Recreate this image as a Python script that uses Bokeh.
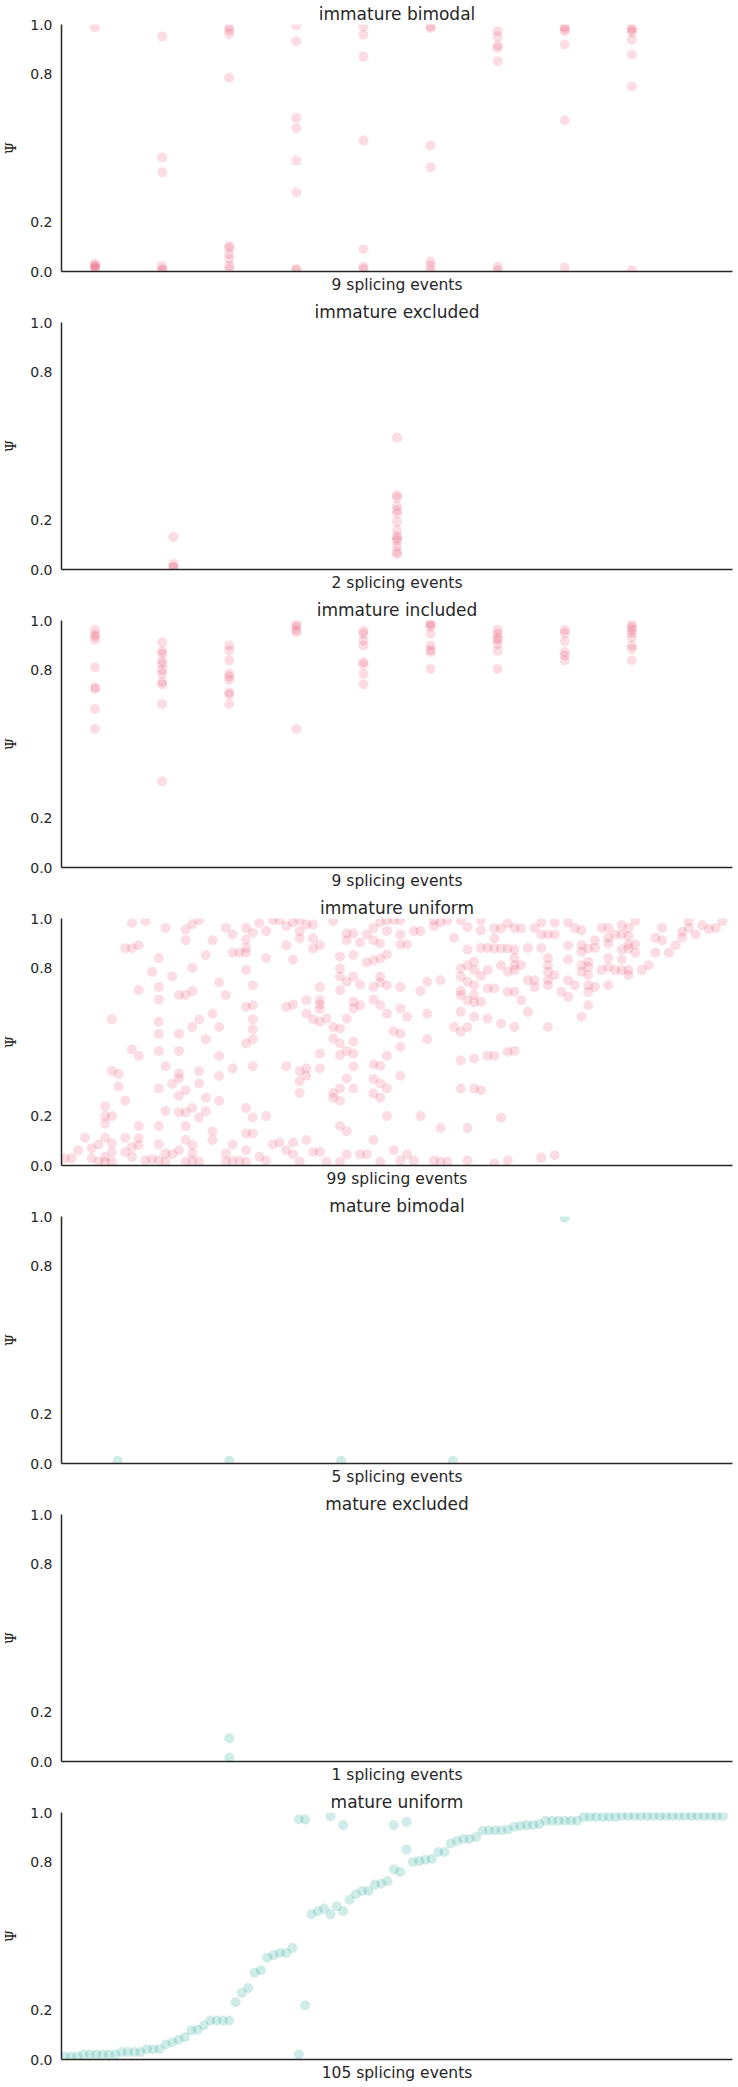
from bokeh.plotting import figure
from bokeh.layouts import column
from bokeh.models import Range1d, FixedTicker
from bokeh.embed import file_html
from bokeh.resources import INLINE

panel_titles = ["immature bimodal", "immature excluded", "immature included",
                "immature uniform", "mature bimodal", "mature excluded", "mature uniform"]
n_events = [9, 2, 9, 99, 5, 1, 105]
y_ticks = [0.0, 0.2, 0.8, 1.0]
immature_color = "#EB5573"
mature_color = "#14A091"

# Psi values per splicing event (one inner list per event)
imm_bimodal = [
    [0.989, 0.03, 0.025, 0.02, 0.015, 0.01],
    [0.951, 0.462, 0.401, 0.023, 0.009, 0.005],
    [0.989, 0.976, 0.962, 0.784, 0.104, 0.095, 0.07, 0.05, 0.023, 0.01],
    [0.996, 0.932, 0.622, 0.58, 0.449, 0.32, 0.01, 0.005],
    [0.992, 0.959, 0.87, 0.53, 0.09, 0.019, 0.01],
    [0.992, 0.986, 0.51, 0.422, 0.04, 0.023, 0.005],
    [0.973, 0.951, 0.915, 0.905, 0.851, 0.019, 0.005],
    [0.989, 0.982, 0.973, 0.919, 0.611, 0.016],
    [0.986, 0.978, 0.969, 0.938, 0.878, 0.749, 0.005],
]
imm_excluded = [
    [0.132, 0.022, 0.011, 0.007],
    [0.533, 0.301, 0.291, 0.256, 0.24, 0.227, 0.193, 0.159, 0.135, 0.126, 0.116, 0.094, 0.072, 0.062],
]
imm_included = [
    [0.962, 0.943, 0.935, 0.922, 0.811, 0.73, 0.723, 0.642, 0.561],
    [0.912, 0.876, 0.865, 0.835, 0.824, 0.8, 0.784, 0.75, 0.741, 0.662, 0.349],
    [0.899, 0.878, 0.838, 0.784, 0.773, 0.759, 0.709, 0.7, 0.662],
    [0.986, 0.976, 0.962, 0.953, 0.561],
    [0.957, 0.946, 0.919, 0.899, 0.831, 0.822, 0.784, 0.741],
    [0.989, 0.984, 0.976, 0.946, 0.899, 0.881, 0.872, 0.804],
    [0.962, 0.946, 0.93, 0.922, 0.905, 0.878, 0.804],
    [0.962, 0.949, 0.916, 0.872, 0.858, 0.838],
    [0.986, 0.973, 0.962, 0.949, 0.932, 0.899, 0.885, 0.838],
]
imm_uniform = [
    [0.028], [0.03], [0.062], [0.112], [0.07, 0.03], [0.085, 0.015],
    [0.112, 0.24, 0.20, 0.17, 0.035, 0.015],
    [0.592, 0.383, 0.20, 0.09, 0.055, 0.015],
    [0.371, 0.32],
    [0.88, 0.262, 0.112, 0.055],
    [0.982, 0.88, 0.47, 0.075, 0.035],
    [0.892, 0.71, 0.443, 0.16, 0.11, 0.082],
    [0.99, 0.02],
    [0.784, 0.025],
    [0.84, 0.723, 0.672, 0.582, 0.533, 0.464, 0.312, 0.16, 0.086, 0.02],
    [0.962, 0.402, 0.221, 0.049, 0.015],
    [0.764, 0.33, 0.045],
    [0.69, 0.533, 0.464, 0.372, 0.352, 0.282, 0.215, 0.062],
    [0.955, 0.912, 0.69, 0.305, 0.215, 0.16, 0.103, 0.015],
    [0.977, 0.80, 0.706, 0.561, 0.233, 0.082, 0.049, 0.02],
    [0.993, 0.591, 0.382, 0.332, 0.194, 0.015],
    [0.852, 0.511, 0.274, 0.22],
    [0.912, 0.614, 0.139, 0.103],
    [0.741, 0.561, 0.443, 0.362, 0.262],
    [0.962, 0.69, 0.049, 0.015],
    [0.935, 0.861, 0.393, 0.085, 0.018],
    [0.861, 0.02],
    [0.962, 0.915, 0.881, 0.861, 0.791, 0.642, 0.494, 0.233, 0.13, 0.062, 0.015],
    [0.942, 0.73, 0.649, 0.592, 0.552, 0.511, 0.402, 0.194, 0.13],
    [0.982, 0.035],
    [0.949, 0.84, 0.20, 0.02],
    [0.993, 0.085],
    [0.993, 0.093],
    [0.97, 0.892, 0.642, 0.402, 0.062],
    [0.984, 0.834, 0.652, 0.093, 0.045],
    [0.993, 0.949, 0.919, 0.382, 0.341, 0.294, 0.015],
    [0.976, 0.669, 0.615, 0.393, 0.363, 0.103],
    [0.976, 0.919, 0.879, 0.592, 0.055],
    [0.892, 0.723, 0.669, 0.652, 0.633, 0.582, 0.453, 0.393, 0.055],
    [0.595, 0.015],
    [0.99, 0.561, 0.514, 0.294, 0.274],
    [0.846, 0.798, 0.764, 0.71, 0.555, 0.494, 0.447, 0.312, 0.262, 0.16, 0.015],
    [0.939, 0.912, 0.744, 0.595, 0.464, 0.352, 0.139, 0.045],
    [0.939, 0.852, 0.764, 0.663, 0.636, 0.501, 0.453, 0.402, 0.312],
    [0.903, 0.733, 0.649, 0.045],
    [0.935, 0.822, 0.045],
    [0.962, 0.912, 0.831, 0.723, 0.672, 0.409, 0.35, 0.291, 0.103],
    [0.984, 0.899, 0.838, 0.764, 0.741, 0.649, 0.404, 0.332, 0.274, 0.015],
    [0.993, 0.949, 0.854, 0.73, 0.615, 0.443, 0.312, 0.20],
    [0.993, 0.544, 0.062],
    [0.993, 0.935, 0.895, 0.723, 0.636, 0.534, 0.48, 0.363, 0.02],
    [0.895, 0.602, 0.045],
    [0.949, 0.02],
    [0.949, 0.706, 0.20],
    [0.744, 0.614, 0.511],
    [0.993, 0.97, 0.02],
    [0.984, 0.75, 0.152, 0.015],
    [0.993, 0.015],
    [0.922, 0.561],
    [0.993, 0.798, 0.764, 0.706, 0.69, 0.622, 0.541, 0.425, 0.312],
    [0.966, 0.874, 0.811, 0.744, 0.669, 0.561, 0.152, 0.02],
    [0.825, 0.791, 0.73, 0.69, 0.66, 0.602, 0.433, 0.312],
    [0.993, 0.952, 0.881, 0.768, 0.663, 0.305],
    [0.881, 0.791, 0.717, 0.595, 0.444],
    [0.96, 0.919, 0.879, 0.717, 0.444, 0.008],
    [0.96, 0.879, 0.811, 0.575, 0.193],
    [0.98, 0.879, 0.784, 0.703, 0.46, 0.02],
    [0.962, 0.874, 0.84, 0.811, 0.791, 0.703, 0.561, 0.464],
    [0.96, 0.811, 0.669],
    [0.881, 0.75, 0.622],
    [0.962, 0.75, 0.723],
    [0.984, 0.935, 0.881, 0.031],
    [0.935, 0.84, 0.811, 0.784, 0.75, 0.73, 0.561],
    [0.984, 0.935, 0.771, 0.042],
    [0.703],
    [0.984, 0.892, 0.834, 0.75, 0.683],
    [0.962, 0.73],
    [0.952, 0.892, 0.865, 0.811, 0.784, 0.602],
    [0.879, 0.825, 0.804, 0.771, 0.73, 0.703, 0.649],
    [0.912, 0.881, 0.723],
    [0.962, 0.791],
    [0.962, 0.922, 0.899, 0.84, 0.804, 0.73],
    [0.935, 0.791],
    [0.973, 0.935, 0.874, 0.834, 0.791],
    [0.962, 0.929, 0.895, 0.879, 0.791, 0.771],
    [0.989, 0.895, 0.861],
    [0.791],
    [0.811],
    [0.922, 0.861],
    [0.962, 0.912],
    [0.861],
    [0.892],
    [0.946, 0.922],
    [0.989, 0.962],
    [0.935],
    [0.973],
    [0.957],
    [0.962],
    [0.989],
]
mat_bimodal = [[0.011], [0.011], [0.011], [0.011], [0.995]]
mat_excluded = [[0.094, 0.016]]
mat_uniform = [
    [0.012], [0.012], [0.012],
    [0.02], [0.02], [0.02], [0.02], [0.02], [0.02],
    [0.03], [0.03], [0.03], [0.03],
    [0.042], [0.042], [0.042],
    [0.061], [0.07], [0.08], [0.09], [0.118], [0.12], [0.138],
    [0.158], [0.158], [0.158], [0.158],
    [0.232], [0.269], [0.289], [0.351], [0.361], [0.412], [0.422], [0.431], [0.431], [0.451],
    [0.972, 0.02], [0.972, 0.219],
    [0.588], [0.601], [0.611], [0.985, 0.588], [0.62], [0.949, 0.6], [0.647], [0.669],
    [0.682], [0.682], [0.708], [0.712], [0.723],
    [0.949, 0.769], [0.759], [0.962, 0.85], [0.8], [0.804], [0.809], [0.812], [0.84], [0.84],
    [0.874], [0.885], [0.893], [0.893], [0.901], [0.926], [0.928], [0.928], [0.928], [0.931],
    [0.942], [0.945], [0.949], [0.949], [0.953],
    [0.967], [0.967], [0.967], [0.967], [0.967], [0.967],
    [0.982], [0.982], [0.982], [0.982], [0.982], [0.982],
    [0.986], [0.986], [0.986], [0.986], [0.986], [0.986], [0.986], [0.986], [0.986],
    [0.986], [0.986], [0.986], [0.986], [0.986], [0.986], [0.986], [0.986],
]

panel_data = [imm_bimodal, imm_excluded, imm_included, imm_uniform,
              mat_bimodal, mat_excluded, mat_uniform]
panel_colors = [immature_color] * 4 + [mature_color] * 3

TEXT = "#262626"
FONT = "DejaVu Sans"


def flatten(events):
    xs, ys = [], []
    for i, vals in enumerate(events):
        for v in vals:
            xs.append(i)
            ys.append(v)
    return xs, ys


figs = []
for title, n, events, color in zip(panel_titles, n_events, panel_data, panel_colors):
    p = figure(width=738, height=298, output_backend="svg", toolbar_location=None,
               x_range=Range1d(-0.5, n + 0.5), y_range=Range1d(0, 1),
               min_border_left=57, min_border_right=6, min_border_top=24,
               min_border_bottom=27, title=title)
    p.title.align = "center"
    p.title.text_font = FONT
    p.title.text_font_size = "17px"
    p.title.text_font_style = "normal"
    p.title.text_color = TEXT
    p.title.standoff = 1
    p.outline_line_color = None
    p.xgrid.visible = False
    p.ygrid.visible = False
    p.background_fill_color = "white"
    p.border_fill_color = "white"

    xs, ys = flatten(events)
    p.scatter(xs, ys, marker="circle", size=10, fill_color=color, fill_alpha=0.2,
              line_color=None)

    xa = p.xaxis[0]
    xa.ticker = FixedTicker(ticks=[])
    xa.axis_label = f"{n} splicing events"
    xa.axis_label_text_font = FONT
    xa.axis_label_text_font_size = "15.5px"
    xa.axis_label_text_font_style = "normal"
    xa.axis_label_text_color = TEXT
    xa.axis_label_standoff = 4
    xa.major_tick_out = 0
    xa.major_tick_in = 0
    xa.minor_tick_out = 0
    xa.minor_tick_in = 0
    xa.axis_line_color = TEXT
    xa.axis_line_width = 1.5

    ya = p.yaxis[0]
    ya.ticker = FixedTicker(ticks=y_ticks)
    ya.major_label_overrides = {0.0: "0.0", 0.2: "0.2", 0.8: "0.8", 1.0: "1.0"}
    ya.major_label_text_font = FONT
    ya.major_label_text_font_size = "14px"
    ya.major_label_text_color = TEXT
    ya.major_label_standoff = 9
    ya.major_tick_out = 0
    ya.major_tick_in = 0
    ya.minor_tick_out = 0
    ya.minor_tick_in = 0
    ya.axis_line_color = TEXT
    ya.axis_line_width = 1.5
    ya.axis_label = "Ψ"
    ya.axis_label_text_font = "DejaVu Serif"
    ya.axis_label_text_font_size = "14px"
    ya.axis_label_text_font_style = "normal"
    ya.axis_label_text_color = TEXT
    ya.axis_label_standoff = 8

    figs.append(p)

layout = column(*figs, spacing=0)
open("out.html", "w").write(file_html(layout, INLINE))
